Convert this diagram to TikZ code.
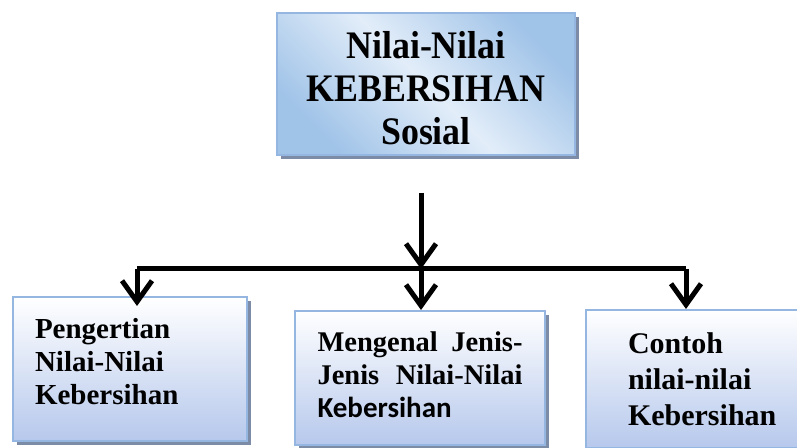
\documentclass[tikz,border=0pt]{standalone}
\usepackage{fontspec}
\setmainfont{Liberation Serif}
\newfontfamily\calibri{Carlito}
\newfontfamily\judulfont[FakeStretch=0.92]{Liberation Serif}
\usetikzlibrary{arrows.meta,shadows}
\definecolor{garisbiru}{RGB}{150,182,226}
\definecolor{birutua}{RGB}{160,195,232}
\definecolor{birumuda}{RGB}{226,237,249}
\definecolor{birubawah}{RGB}{182,200,236}
\definecolor{bayangan}{RGB}{125,140,166}

\begin{document}
\begin{tikzpicture}[x=1pt, y=1pt, font=\bfseries,
  kotak/.style={draw=garisbiru, line width=2pt, inner ysep=0pt,
    top color=white, bottom color=birubawah, align=left,
    drop shadow={shadow xshift=4pt, shadow yshift=-4pt, fill=bayangan, opacity=1}},
  panah/.style={line width=5pt, -{Straight Barb[length=21pt,width=30pt]}}]
  \useasboundingbox (0,0) rectangle (797,447);
  % kotak judul
  \node[kotak, top color=birutua, bottom color=birutua, middle color=birumuda,
    shading angle=-45, align=center, minimum width=298pt, minimum height=142pt,
    inner sep=0pt, font=\judulfont\bfseries\fontsize{39}{43}\selectfont]
    (judul) at (426,363) {\rule{0pt}{36pt}Nilai-Nilai\\KEBERSIHAN\\Sosial};
  % tiga kotak bawah
  \node[kotak, text width=190pt, inner xsep=22pt, minimum height=144pt,
    font=\bfseries\fontsize{29}{33}\selectfont]
    (pengertian) at (130,78) {Pengertian\\Nilai-Nilai\\Kebersihan\rule[-16pt]{0pt}{16pt}};
  \node[kotak, text width=205pt, inner xsep=22.5pt, minimum height=134pt,
    font=\bfseries\fontsize{28.5}{33}\selectfont]
    (jenis) at (420,69) {\makebox[205pt][s]{Mengenal\hfill Jenis-}\\
      \makebox[205pt][s]{Jenis\hfill Nilai-Nilai}\\
      {\calibri\fontsize{29}{33}\selectfont Kebersihan}\rule[-6pt]{0pt}{6pt}};
  \node[kotak, anchor=north west, text width=165pt, inner xsep=42pt,
    minimum height=138pt, font=\bfseries\fontsize{30}{36}\selectfont]
    (contoh) at (585,138) {Contoh\\nilai-nilai\\Kebersihan};
  % panah
  \coordinate (pangkal) at (421,254);
  \coordinate (cabang) at (421,178);
  \coordinate (ki) at (137,178);
  \coordinate (ka) at (686,178);
  \draw[line width=5pt] (ki) -- (ka);
  \draw[panah] (pangkal) -- (cabang);
  \draw[panah] (ki) -- ([yshift=-10pt]ki |- pengertian.north);
  \draw[panah] (cabang) -- (cabang |- jenis.north);
  \draw[panah] (ka) -- (ka |- contoh.north);
\end{tikzpicture}
\end{document}
